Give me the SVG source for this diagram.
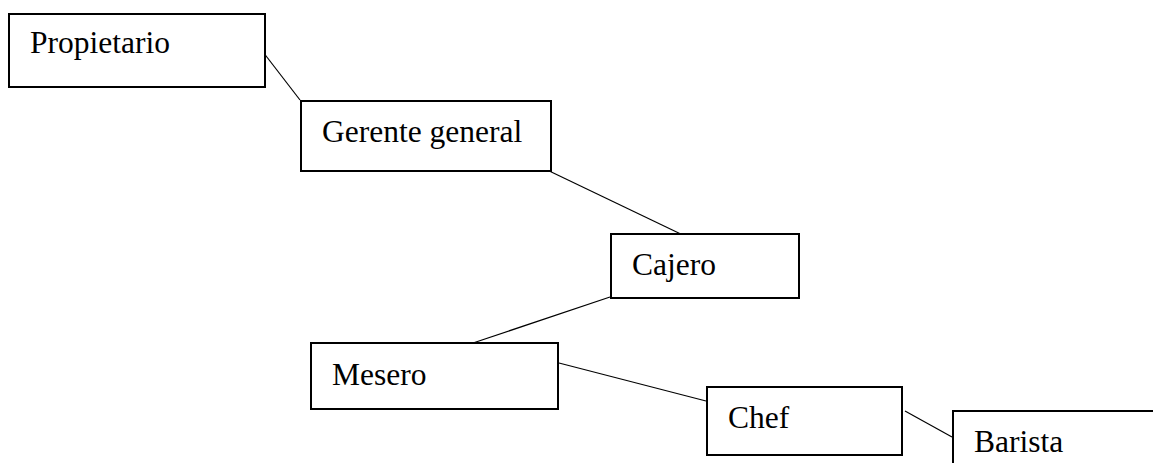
<svg xmlns="http://www.w3.org/2000/svg" width="1153" height="463" viewBox="0 0 1153 463">
  <style>
    .box { fill: #ffffff; stroke: #000000; stroke-width: 2; }
    .lbl { font-family: "Liberation Serif", "Times New Roman", serif; font-size: 31.5px; fill: #000000; }
    .link { stroke: #000000; stroke-width: 1.2; fill: none; }
  </style>
  <rect width="1153" height="463" fill="#ffffff"/>

  <!-- connectors between roles -->
  <g id="connectors">
    <line class="link" x1="263" y1="52" x2="300" y2="100"/>
    <line class="link" x1="543" y1="168" x2="687" y2="237"/>
    <line class="link" x1="610" y1="297" x2="470" y2="344"/>
    <line class="link" x1="559" y1="363" x2="706" y2="401"/>
    <line class="link" x1="905" y1="411" x2="952" y2="437"/>
  </g>

  <g id="propietario">
    <rect class="box" x="9" y="14" width="256" height="73"/>
    <text class="lbl" x="30" y="53">Propietario</text>
  </g>

  <g id="gerente-general">
    <rect class="box" x="301" y="101" width="250" height="70"/>
    <text class="lbl" x="322" y="142">Gerente general</text>
  </g>

  <g id="cajero">
    <rect class="box" x="611" y="234" width="188" height="64"/>
    <text class="lbl" x="632" y="275">Cajero</text>
  </g>

  <g id="mesero">
    <rect class="box" x="311" y="343" width="247" height="66"/>
    <text class="lbl" x="332" y="385">Mesero</text>
  </g>

  <g id="chef">
    <rect class="box" x="707" y="387" width="195" height="68"/>
    <text class="lbl" x="728" y="428">Chef</text>
  </g>

  <g id="barista">
    <rect class="box" x="953" y="411" width="215" height="80"/>
    <text class="lbl" x="974" y="452">Barista</text>
  </g>
</svg>
